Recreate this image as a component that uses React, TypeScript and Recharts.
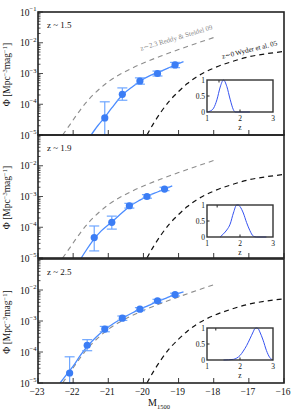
import { ComposedChart, LineChart, Line, Scatter, ErrorBar, XAxis, YAxis } from 'recharts'

const FONT = '"Liberation Serif", "DejaVu Serif", serif'
const W = 293
const H = 411
const PL = 38
const PR = 284
const INK = '#222'

// axes
const mTicks = [-23, -22, -21, -20, -19, -18, -17, -16]
const phiDecades = [1e-5, 1e-4, 1e-3, 1e-2, 1e-1]
const phiTicks = [...phiDecades, ...phiDecades.slice(0, -1).flatMap((d) => [2, 3, 4, 5, 6, 7, 8, 9].map((k) => k * d))]
const zTicks = [1, 2, 3]
const pTicks = [0, 0.5, 1]

// z ~ 1.5
const m15 = [-21.1, -20.6, -20.1, -19.6, -19.1]
const phi15 = [3.6e-5, 2.1e-4, 5.7e-4, 1.0e-3, 1.9e-3]
const lo15 = [1e-5, 1.35e-4, 4.5e-4, 8.3e-4, 1.55e-3]
const hi15 = [1.2e-4, 3.4e-4, 7.2e-4, 1.2e-3, 2.3e-3]
const fitM15 = [-21.49, -21.3, -21.1, -20.9, -20.6, -20.3, -20.1, -19.8, -19.6, -19.3, -19.1, -18.86]
const fitPhi15 = [1e-5, 2.0e-5, 3.8e-5, 7.6e-5, 2.0e-4, 3.8e-4, 5.6e-4, 8.7e-4, 1.07e-3, 1.5e-3, 1.9e-3, 2.45e-3]
const z15 = [1.0, 1.1, 1.2, 1.3, 1.4, 1.5, 1.6, 1.7, 1.8, 1.85, 2.0, 2.3]
const pz15 = [0, 0.03, 0.12, 0.38, 0.78, 1.0, 0.8, 0.4, 0.07, 0, 0, 0]

// z ~ 1.9
const m19 = [-21.4, -20.9, -20.4, -19.9, -19.4]
const phi19 = [4.6e-5, 1.45e-4, 5.0e-4, 1.0e-3, 1.75e-3]
const lo19 = [1.7e-5, 8.7e-5, 4.2e-4, 8.8e-4, 1.55e-3]
const hi19 = [1.1e-4, 2.3e-4, 6.0e-4, 1.15e-3, 2.0e-3]
const fitM19 = [-21.77, -21.6, -21.4, -21.2, -20.9, -20.6, -20.4, -20.1, -19.9, -19.6, -19.4, -19.18]
const fitPhi19 = [1e-5, 2.0e-5, 4.2e-5, 7.6e-5, 1.5e-4, 3.0e-4, 4.7e-4, 7.6e-4, 1.0e-3, 1.4e-3, 1.74e-3, 2.2e-3]
const z19 = [1.4, 1.5, 1.6, 1.7, 1.8, 1.9, 1.95, 2.0, 2.1, 2.2, 2.3, 2.4, 2.5, 2.8]
const pz19 = [0, 0.1, 0.22, 0.4, 0.75, 1.0, 1.0, 0.95, 0.75, 0.45, 0.2, 0.03, 0, 0]

// z ~ 2.5
const m25 = [-22.1, -21.6, -21.1, -20.6, -20.1, -19.6, -19.1]
const phi25 = [2.1e-5, 1.65e-4, 5.5e-4, 1.23e-3, 2.4e-3, 4.5e-3, 7.1e-3]
const lo25 = [1e-5, 1.1e-4, 4.5e-4, 1.05e-3, 2.15e-3, 4.0e-3, 6.4e-3]
const hi25 = [7e-5, 2.5e-4, 6.7e-4, 1.45e-3, 2.7e-3, 5.0e-3, 7.9e-3]
const fitM25 = [-22.37, -22.2, -22.0, -21.8, -21.6, -21.35, -21.1, -20.85, -20.6, -20.35, -20.1, -19.85, -19.6, -19.35, -19.1, -18.86]
const fitPhi25 = [1e-5, 1.8e-5, 3.5e-5, 7.6e-5, 1.5e-4, 3.0e-4, 5.2e-4, 8.3e-4, 1.23e-3, 1.74e-3, 2.4e-3, 3.2e-3, 4.3e-3, 5.5e-3, 7.1e-3, 8.7e-3]
const z25 = [1.5, 1.8, 1.9, 2.0, 2.1, 2.2, 2.3, 2.4, 2.45, 2.5, 2.55, 2.6, 2.7, 2.8, 2.9, 3.0]
const pz25 = [0, 0.02, 0.06, 0.14, 0.28, 0.45, 0.66, 0.88, 0.98, 1.0, 0.98, 0.88, 0.62, 0.3, 0.08, 0]

// literature luminosity functions
const reddyM = [-22.3, -22.1, -21.9, -21.6, -21.3, -21.0, -20.7, -20.4, -20.0, -19.5, -19.0, -18.5, -18.0]
const reddyPhi = [1e-5, 2.1e-5, 4.5e-5, 1.26e-4, 2.8e-4, 5.4e-4, 8.9e-4, 1.35e-3, 2.2e-3, 3.7e-3, 6.0e-3, 9.5e-3, 1.48e-2]
const wyderM = [-19.9, -19.7, -19.5, -19.25, -19.0, -18.75, -18.5, -18.0, -17.5, -17.0, -16.5, -16.0]
const wyderPhi = [1e-5, 2.5e-5, 5.6e-5, 1.32e-4, 2.6e-4, 4.7e-4, 7.6e-4, 1.5e-3, 2.4e-3, 3.5e-3, 4.4e-3, 5.2e-3]

const toRows = (xs: number[], ys: number[]) => xs.map((m, i) => ({ m, phi: ys[i] }))
const reddy = toRows(reddyM, reddyPhi)
const wyder = toRows(wyderM, wyderPhi)

const panels = [
  { top: 12, bottom: 135, label: 'z ~ 1.5', m: m15, phi: phi15, lo: lo15, hi: hi15, fitM: fitM15, fitPhi: fitPhi15, z: z15, pz: pz15, insetTop: 80, topLabel: true, xLabels: false },
  { top: 135, bottom: 258, label: 'z ~ 1.9', m: m19, phi: phi19, lo: lo19, hi: hi19, fitM: fitM19, fitPhi: fitPhi19, z: z19, pz: pz19, insetTop: 205, topLabel: false, xLabels: false },
  { top: 259, bottom: 383, label: 'z ~ 2.5', m: m25, phi: phi25, lo: lo25, hi: hi25, fitM: fitM25, fitPhi: fitPhi25, z: z25, pz: pz25, insetTop: 328, topLabel: false, xLabels: true },
]

const minus = (v: number) => (v < 0 ? '\u2212' + Math.abs(v) : String(v))

function PhiTick({ y, payload, side, labelTop }: any) {
  const lg = Math.log10(payload.value)
  const major = Math.abs(lg - Math.round(lg)) < 1e-6
  const len = major ? 5 : 2.5
  if (side === 'right') return <line x1={PR} x2={PR - len} y1={y} y2={y} stroke={INK} strokeWidth={0.8} />
  const exp = Math.round(lg)
  const showText = major && (labelTop || exp !== -1)
  return (
    <g>
      <line x1={PL} x2={PL + len} y1={y} y2={y} stroke={INK} strokeWidth={0.8} />
      {showText && (
        <text x={PL - 1.5} y={y + 3.5} textAnchor="end" fontSize={9.5} fontFamily={FONT} fill="#111">
          10<tspan dy={-4.5} fontSize={6.5}>{'\u2212' + Math.abs(exp)}</tspan>
        </text>
      )}
    </g>
  )
}

function MTick({ x, payload, y0, dir, label }: any) {
  return (
    <g>
      <line x1={x} x2={x} y1={y0} y2={y0 + dir * 5} stroke={INK} strokeWidth={0.9} />
      {label && (
        <text x={x - 1} y={y0 + 12} textAnchor="middle" fontSize={9.5} fontFamily={FONT} fill="#111">
          {minus(payload.value)}
        </text>
      )}
    </g>
  )
}

function Panel({ cfg }: any) {
  const pts = cfg.m.map((m: number, i: number) => ({ m, phi: cfg.phi[i], err: [cfg.phi[i] - cfg.lo[i], cfg.hi[i] - cfg.phi[i]] }))
  const fit = toRows(cfg.fitM, cfg.fitPhi)
  // helper axes take 1px each (0 would not render), margins compensate
  return (
    <div style={{ position: 'absolute', left: 0, top: 0 }}>
      <ComposedChart width={W} height={H} margin={{ top: cfg.top - 1, bottom: H - cfg.bottom - 1, left: 0, right: W - PR - 1 }}>
        <XAxis type="number" dataKey="m" domain={[-23, -16]} ticks={mTicks} interval={0} height={1} allowDataOverflow
          axisLine={false} tickLine={false} tick={(p: any) => <MTick {...p} y0={cfg.bottom} dir={-1} label={cfg.xLabels} />} />
        <XAxis xAxisId="t" orientation="top" type="number" domain={[-23, -16]} ticks={mTicks} interval={0} height={1}
          axisLine={false} tickLine={false} tick={(p: any) => <MTick {...p} y0={cfg.top} dir={1} label={false} />} />
        <YAxis scale="log" type="number" dataKey="phi" domain={[1e-5, 1e-1]} ticks={phiTicks} interval={0} width={PL} allowDataOverflow
          axisLine={false} tickLine={false} tick={(p: any) => <PhiTick {...p} side="left" labelTop={cfg.topLabel} />} />
        <YAxis yAxisId="r" orientation="right" scale="log" type="number" domain={[1e-5, 1e-1]} ticks={phiTicks} interval={0} width={1}
          axisLine={false} tickLine={false} tick={(p: any) => <PhiTick {...p} side="right" />} />
        <Line data={reddy} dataKey="phi" type="monotone" stroke="#8d8d8d" strokeWidth={1.1} strokeDasharray="5 4" dot={false} isAnimationActive={false} />
        <Line data={wyder} dataKey="phi" type="monotone" stroke="#111" strokeWidth={1.2} strokeDasharray="5 4" dot={false} isAnimationActive={false} />
        <Line data={fit} dataKey="phi" type="monotone" stroke="#4b8cff" strokeWidth={1.3} dot={false} isAnimationActive={false} />
        <Scatter data={pts} dataKey="phi" fill="#3b7df5" isAnimationActive={false}
          shape={(p: any) => <circle cx={p.cx} cy={p.cy} r={3.6} fill="#3b7df5" />}>
          <ErrorBar dataKey="err" direction="y" width={5} stroke="#6ea6ff" strokeWidth={1.2} />
        </Scatter>
      </ComposedChart>
    </div>
  )
}

function InsetTick({ x, y, payload, kind }: any) {
  const v = payload.value
  const t = (s: string, tx: number, ty: number, anchor: string) => (
    <text x={tx} y={ty} textAnchor={anchor} fontSize={7.5} fontFamily={FONT} fill="#111">{s}</text>
  )
  if (kind === 'left') return <g>{v === 0.5 && <line x1={20} x2={22.5} y1={y} y2={y} stroke={INK} />}{t(String(v), 18, y + 2.6, 'end')}</g>
  if (kind === 'right') return v === 0.5 ? <line x1={86} x2={83.5} y1={y} y2={y} stroke={INK} /> : <g />
  if (kind === 'top') return v === 2 ? <line x1={x} x2={x} y1={6} y2={8.5} stroke={INK} /> : <g />
  return <g>{v === 2 && <line x1={x} x2={x} y1={38} y2={35.5} stroke={INK} />}{t(String(v), x, 46.5, 'middle')}</g>
}

function Inset({ top, z, p }: any) {
  const data = z.map((zz: number, i: number) => ({ z: zz, p: p[i] }))
  const left = 207
  return (
    <>
      <div style={{ position: 'absolute', left, top, width: 66, height: 32, background: '#fff' }} />
      <div style={{ position: 'absolute', left: left - 20, top: top - 6 }}>
        <LineChart width={94} height={62} margin={{ top: 5, left: 19, right: 7, bottom: 23 }} data={data}>
          <XAxis type="number" dataKey="z" domain={[1, 3]} ticks={zTicks} interval={0} height={1} axisLine={false} tickLine={false}
            tick={(q: any) => <InsetTick {...q} kind="bottom" />} />
          <XAxis xAxisId="t" orientation="top" type="number" domain={[1, 3]} ticks={zTicks} interval={0} height={1} axisLine={false} tickLine={false}
            tick={(q: any) => <InsetTick {...q} kind="top" />} />
          <YAxis type="number" domain={[0, 1]} ticks={pTicks} interval={0} width={1} axisLine={false} tickLine={false}
            tick={(q: any) => <InsetTick {...q} kind="left" />} />
          <YAxis yAxisId="r" orientation="right" type="number" domain={[0, 1]} ticks={pTicks} interval={0} width={1} axisLine={false} tickLine={false}
            tick={(q: any) => <InsetTick {...q} kind="right" />} />
          <Line dataKey="p" type="monotone" stroke="#3552f0" strokeWidth={1} dot={false} isAnimationActive={false} />
        </LineChart>
      </div>
    </>
  )
}

function YTitle({ cy }: { cy: number }) {
  return (
    <text transform={`translate(10,${cy}) rotate(-90)`} textAnchor="middle" fontSize={9.5} fontFamily={FONT} fill="#111">
      Φ [Mpc<tspan dy={-3.5} fontSize={6.5}>−3</tspan><tspan dy={3.5}>mag</tspan><tspan dy={-3.5} fontSize={6.5}>−1</tspan><tspan dy={3.5}>]</tspan>
    </text>
  )
}

export default function App() {
  return (
    <div style={{ position: 'absolute', left: 0, top: 0, width: W, height: H, background: '#fff', fontFamily: FONT }}>
      {panels.map((c) => <Panel key={c.label} cfg={c} />)}
      {panels.map((c) => <Inset key={'i' + c.label} top={c.insetTop} z={c.z} p={c.pz} />)}
      <svg width={W} height={H} style={{ position: 'absolute', left: 0, top: 0, pointerEvents: 'none' }}>
        {panels.map((c) => (
          <g key={'t' + c.label}>
            <rect x={PL} y={c.top} width={PR - PL} height={c.bottom - c.top} fill="none" stroke={INK} strokeWidth={1.6} />
            <rect x={207} y={c.insetTop} width={66} height={32} fill="none" stroke="#333" strokeWidth={1.4} />
            <text x={47} y={c.top + 16} fontSize={9} fontFamily={FONT} fill="#111">{c.label}</text>
            <YTitle cy={(c.top + c.bottom) / 2 + 1} />
            <text x={240} y={c.insetTop + 50} textAnchor="middle" fontSize={7.5} fontFamily={FONT} fill="#111">z</text>
          </g>
        ))}
        <text transform="translate(177,40) rotate(-16.5)" textAnchor="middle" fontSize={7} fontFamily={FONT} fill="#8a8a8a">
          z∼2.3 Reddy &amp; Steidel 09
        </text>
        <text transform="translate(250,52) rotate(-14)" textAnchor="middle" fontSize={7} fontFamily={FONT} fill="#111">
          z∼0 Wyder et al. 05
        </text>
        <text x={148} y={406} fontSize={10} fontFamily={FONT} fill="#111">
          M<tspan dy={3} fontSize={6.5}>1500</tspan>
        </text>
      </svg>
    </div>
  )
}
